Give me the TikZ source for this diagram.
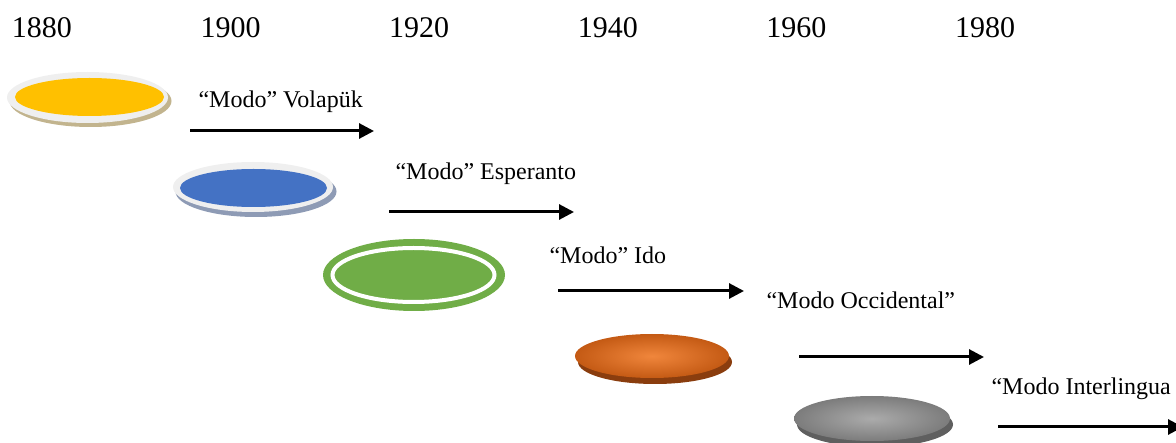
\documentclass[tikz,border=0pt]{standalone}
\usepackage{fontspec}
\setmainfont{Liberation Serif}
\usetikzlibrary{shapes.geometric,arrows.meta}

\definecolor{rimgray}{HTML}{EFEFEF}
\definecolor{volayellow}{HTML}{FFC000}
\definecolor{volashadow}{HTML}{C2B48E}
\definecolor{espblue}{HTML}{4472C4}
\definecolor{espshadow}{HTML}{8E9BB5}
\definecolor{idogreen}{HTML}{70AD47}
\definecolor{occorange}{HTML}{F0863C}
\definecolor{occedge}{HTML}{C45A14}
\definecolor{occshadow}{HTML}{8A3D0E}
\definecolor{ilgray}{HTML}{ABABAB}
\definecolor{iledge}{HTML}{7C7C7C}
\definecolor{ilshadow}{HTML}{5F5F5F}

\begin{document}
\begin{tikzpicture}
[
	x=1pt,y=-1pt,
	year/.style={anchor=base,font=\fontsize{30}{36}\selectfont},
	mode/.style={anchor=base west,font=\fontsize{24}{28}\selectfont},
	disc/.style 2 args={ellipse,inner sep=0pt,minimum width=#1,minimum height=#2},
	flow/.style={-{Triangle[length=15pt,width=15pt]},line width=3pt}
]

	\useasboundingbox (0,0) rectangle (1176,443);

	% years
	\foreach \yr [count=\i from 0] in {1880,1900,...,1980} {
		\node[year] (y\yr) at ({42+188.6*\i},38) {\yr};
	}

	% Volapuk
	\node[disc={162pt}{52pt},fill=volashadow] (vola shadow) at (90.5,101) {};
	\node[disc={161pt}{51pt},fill=rimgray] (vola rim) at (87.5,97.5) {};
	\node[disc={149pt}{38pt},fill=volayellow] (vola) at (89.5,97) {};

	% Esperanto
	\node[disc={161pt}{51pt},fill=espshadow] (esp shadow) at (256,191.5) {};
	\node[disc={160pt}{50pt},fill=rimgray] (esp rim) at (253,187) {};
	\node[disc={147pt}{38pt},fill=espblue] (esp) at (253.5,188) {};

	% Ido
	\node[disc={182pt}{72pt},fill=idogreen] (ido) at (414,275) {};
	\node[disc={162pt}{54pt},draw=white,line width=4pt] (ido ring) at (413.5,275) {};

	% Occidental
	\node[disc={154pt}{44pt},fill=occshadow] (occ shadow) at (655,362) {};
	\node[disc={154pt}{44pt},shading=radial,inner color=occorange,outer color=occedge] (occ) at (652,356) {};

	% Interlingua
	\node[disc={156pt}{45pt},fill=ilshadow] (il shadow) at (875,424.5) {};
	\node[disc={156pt}{45pt},shading=radial,inner color=ilgray,outer color=iledge] (il) at (872,418.5) {};

	% labels
	\node[mode] (lvola) at (195,108) {“Modo” Volapük};
	\node[mode] (lesp) at (392,180) {“Modo” Esperanto};
	\node[mode] (lido) at (546,264) {“Modo” Ido};
	\node[mode] (locc) at (763,309) {“Modo Occidental”};
	\node[mode] (lil) at (988,395) {“Modo Interlingua};

	% arrows
	\coordinate (a1) at (190,131);
	\coordinate (b1) at (374,131);
	\coordinate (a2) at (389,212);
	\coordinate (b2) at (574,212);
	\coordinate (a3) at (558,291);
	\coordinate (b3) at (744,291);
	\coordinate (a4) at (799,357);
	\coordinate (b4) at (984,357);
	\coordinate (a5) at (998,427);
	\coordinate (b5) at (1183,427);
	\foreach \k in {1,...,5} {
		\draw[flow] (a\k) -- (b\k);
	}

\end{tikzpicture}
\end{document}
